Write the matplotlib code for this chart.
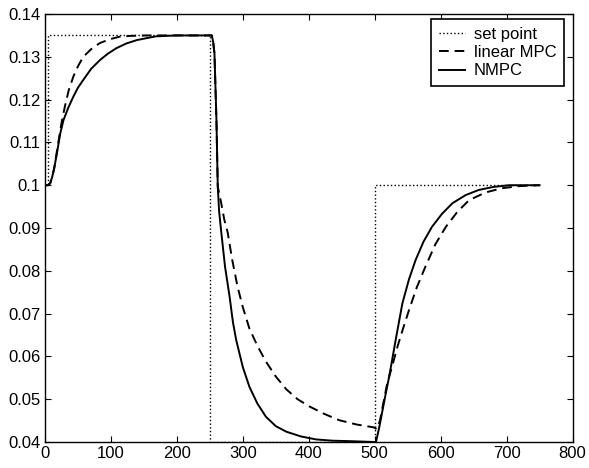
import matplotlib
matplotlib.use("Agg")
import matplotlib.pyplot as plt

plt.rcParams['font.family'] = ['Liberation Sans', 'DejaVu Sans']

# set point
sp_t = [0, 4, 4, 250, 250, 500, 500, 750]
sp_y = [0.1, 0.1, 0.135, 0.135, 0.04, 0.04, 0.1, 0.1]

# linear MPC
lin_t = [0, 5, 8, 11, 14, 20, 25, 30, 36, 43, 50, 58, 70, 83, 98, 113, 130, 154, 253,
         255, 257, 260, 262, 267, 272, 277, 284, 292, 300, 310, 322, 335, 350, 366,
         383, 401, 423, 446, 472, 499,
         503, 508, 513, 519, 527, 535, 543, 552, 564, 577, 592, 608, 625, 643, 668,
         693, 720, 750]
lin_y = [0.1, 0.1, 0.1005, 0.102, 0.104, 0.1098, 0.1145, 0.1183, 0.1222, 0.1254, 0.1278,
         0.130, 0.1318, 0.1332, 0.1341, 0.1347, 0.1349, 0.135, 0.135,
         0.1335, 0.1308, 0.1152, 0.0997, 0.096, 0.0919, 0.089, 0.0825, 0.0763, 0.0715,
         0.0665, 0.0625, 0.0588, 0.0553, 0.0523, 0.050, 0.0483, 0.0466, 0.0451, 0.0441, 0.0434,
         0.0430, 0.0450, 0.0490, 0.0537, 0.058, 0.0625, 0.0665, 0.0708, 0.0762, 0.081,
         0.0862, 0.0903, 0.0937, 0.0965, 0.0983, 0.0993, 0.0998, 0.1]

# NMPC
nmpc_t = [0, 5, 8, 11, 14, 18, 23, 28, 35, 43, 50, 58, 70, 83, 95, 108, 123, 139, 155,
          169, 200, 253,
          255, 257, 260, 262, 264, 267, 273, 280, 285, 290, 300, 310, 322, 335, 350, 366,
          388, 411, 436, 461, 499,
          502, 507, 512, 517, 522, 532, 542, 552, 562, 574, 587, 602, 618, 638, 658,
          680, 704, 750]
nmpc_y = [0.1, 0.1, 0.1005, 0.102, 0.104, 0.1074, 0.112, 0.1152, 0.118, 0.1207, 0.1228,
          0.1246, 0.1272, 0.1292, 0.1307, 0.132, 0.1331, 0.1339, 0.1344, 0.1348, 0.135, 0.135,
          0.1335, 0.1308, 0.1152, 0.0997, 0.094, 0.0895, 0.081, 0.0739, 0.068, 0.0638,
          0.0575, 0.0529, 0.049, 0.0459, 0.0437, 0.0424, 0.0413, 0.0406, 0.0403, 0.0402, 0.040,
          0.040, 0.0435, 0.0475, 0.0515, 0.0553, 0.064, 0.0724, 0.078, 0.0825, 0.0868,
          0.0903, 0.0933, 0.0958, 0.0977, 0.0989, 0.0996, 0.1, 0.1]

fig = plt.figure(figsize=(5.89, 4.68), dpi=100)
ax = fig.add_axes([0.0764, 0.0556, 0.8956, 0.9144])

ax.plot(sp_t, sp_y, color='k', linestyle=':', linewidth=1.0, label='set point')
ax.plot(lin_t, lin_y, color='k', linestyle='--', dashes=(5, 3), linewidth=1.4, label='linear MPC')
ax.plot(nmpc_t, nmpc_y, color='k', linestyle='-', linewidth=1.4, label='NMPC')

ax.set_xlim(0, 800)
ax.set_ylim(0.04, 0.14)
ax.set_xticks(range(0, 801, 100))
ax.set_yticks([0.04, 0.05, 0.06, 0.07, 0.08, 0.09, 0.1, 0.11, 0.12, 0.13, 0.14])
ax.set_yticklabels(['0.04', '0.05', '0.06', '0.07', '0.08', '0.09', '0.1',
                    '0.11', '0.12', '0.13', '0.14'])
ax.tick_params(direction='in', top=True, right=True, labelsize=12, length=4, pad=3)
for s in ax.spines.values():
    s.set_linewidth(1.0)

leg = ax.legend(loc='upper right', bbox_to_anchor=(0.9835, 0.988), fontsize=12,
                fancybox=False, framealpha=1, edgecolor='k', borderaxespad=0,
                handlelength=1.6, handletextpad=0.5, borderpad=0.45,
                labelspacing=0.2)
leg.get_frame().set_linewidth(1.2)

fig.savefig('out.png', dpi=100)
